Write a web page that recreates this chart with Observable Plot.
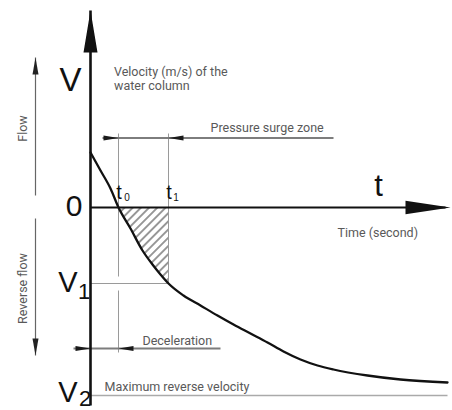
<!DOCTYPE html>
<html><head><meta charset="utf-8">
<script src="https://cdn.jsdelivr.net/npm/d3@7"></script>
<script src="https://cdn.jsdelivr.net/npm/@observablehq/plot@0.6"></script>
<style>html,body{margin:0;padding:0;background:#fff;} svg{display:block;}</style>
</head><body><div id="chart"></div>
<script>
// ---- Data (schematic units: time offset, velocity) ----
const curveT = [0, 10, 20, 28, 40, 52, 62, 70, 78, 93, 110, 127, 143, 160, 177, 193, 210, 227, 243, 277, 310, 357];
const curveV = [55, 37, 19, 0, -21, -43, -57, -67, -76, -88, -98, -108, -117, -126, -135, -144, -152, -158, -162, -168, -172, -175];
const t0 = 28, t1 = 78;
const V1 = -76, V2 = -188;
const vTop = 197, vBottom = -198, tEnd = 360, curveEnd = 357;
const surgeY = 69.5, surgeFrom = 12, surgeTo = 243;
const decelY = -141, decelFrom = -17, decelTo = 130;
const guideTop = 74, t0GapTop = -69, t0GapBottom = -83, t0Bottom = -145;
const flowX = -55, flowFrom = 12, flowTo = 150, revFrom = -11, revTo = -148;

const bigLabels = ["V", "0", "V", "V", "t"];
const bigLabelX = [-20, -16.5, -22.5, -22.5, 288];
const bigLabelY = [127, 1, -75.5, -185, 21];
const bigLabelSize = [33, 30, 29, 29, 31];
const subLabels = ["1", "2"];
const subLabelX = [-6.5, -5.5];
const subLabelY = [-84, -191];

const tickLabels = ["t", "t"];
const tickLabelX = [t0 + 0.5, t1 + 0.5];
const tickSubs = ["0", "1"];
const tickSubX = [t0 + 8.5, t1 + 7.5];

const noteTexts = ["Velocity (m/s) of the\nwater column", "Pressure surge zone", "Time (second)", "Deceleration", "Maximum reverse velocity"];
const noteX = [23.5, 120, 247, 52, 14];
const noteY = [141.9, 85.9, -19.1, -127.1, -173.1];
const sideTexts = ["Flow", "Reverse flow"];
const sideY = [79, -81];

// ---- Build rows ----
const curve = curveT.map((t, i) => ({t, v: curveV[i]}));
const hatch = curve.filter(d => d.t >= t0 && d.t <= t1);
const seg = (x1, y1, x2, y2) => ({x1, y1, x2, y2});

const head = (len, half) => ({draw(ctx) { ctx.moveTo(0, 0); ctx.lineTo(half, len); ctx.lineTo(-half, len); ctx.closePath(); }});

const chart = Plot.plot({
  width: 452, height: 410,
  marginTop: 0, marginRight: 0, marginBottom: 0, marginLeft: 0,
  x: {domain: [-90, 362], axis: null},
  y: {domain: [-203, 207], axis: null},
  style: {background: "#fff"},
  marks: [
    Plot.areaY(hatch, {x: "t", y1: 0, y2: "v", curve: "monotone-x", fill: "url(#hatch)"}),
    // thin guides
    Plot.link([seg(t0, guideTop, t0, t0GapTop), seg(t0, t0GapBottom, t0, t0Bottom), seg(t1, guideTop, t1, V1), seg(0, V1, t1, V1)],
      {x1: "x1", y1: "y1", x2: "x2", y2: "y2", stroke: "#9a9a9a", strokeWidth: 1}),
    Plot.link([seg(0, V2, curveEnd, V2)], {x1: "x1", y1: "y1", x2: "x2", y2: "y2", stroke: "#aaaaaa", strokeWidth: 1.3}),
    // dimension lines
    Plot.link([seg(surgeFrom, surgeY, surgeTo, surgeY), seg(decelFrom, decelY, decelTo, decelY)],
      {x1: "x1", y1: "y1", x2: "x2", y2: "y2", stroke: "#7d7d7d", strokeWidth: 1.8}),
    Plot.dot([{x: t0, y: surgeY, r: 90}, {x: t1, y: surgeY, r: -90}, {x: 0, y: decelY, r: 90}, {x: t0, y: decelY, r: -90}],
      {x: "x", y: "y", rotate: "r", symbol: head(15, 2.6), fill: "#1a1a1a", stroke: "none"}),
    // flow arrows
    Plot.link([seg(flowX, flowFrom, flowX, flowTo), seg(flowX, revFrom, flowX, revTo)],
      {x1: "x1", y1: "y1", x2: "x2", y2: "y2", stroke: "#666", strokeWidth: 1.2}),
    Plot.dot([{x: flowX, y: flowTo, r: 0}, {x: flowX, y: revTo, r: 180}],
      {x: "x", y: "y", rotate: "r", symbol: head(17, 3), fill: "#222", stroke: "none"}),
    // axes
    Plot.link([seg(0, vTop, 0, vBottom)], {x1: "x1", y1: "y1", x2: "x2", y2: "y2", stroke: "#111", strokeWidth: 2.6}),
    Plot.link([seg(0, 0, tEnd - 5, 0)], {x1: "x1", y1: "y1", x2: "x2", y2: "y2", stroke: "#111", strokeWidth: 2.2}),
    Plot.dot([{x: 0, y: vTop}], {x: "x", y: "y", symbol: head(42, 7), fill: "#111", stroke: "none"}),
    Plot.dot([{x: tEnd, y: 0}], {x: "x", y: "y", rotate: 90, symbol: head(45, 6.8), fill: "#111", stroke: "none"}),
    // velocity curve
    Plot.line(curve, {x: "t", y: "v", curve: "monotone-x", stroke: "#111", strokeWidth: 2.3}),
    // big labels
    Plot.text(bigLabels, {x: (d, i) => bigLabelX[i], y: (d, i) => bigLabelY[i], text: d => d, fontSize: (d, i) => bigLabelSize[i],
      fontFamily: "Liberation Sans", fill: "#111", textAnchor: "middle"}),
    Plot.text(subLabels, {x: (d, i) => subLabelX[i], y: (d, i) => subLabelY[i], text: d => d, fontSize: 22,
      fontFamily: "Liberation Sans", fill: "#111", textAnchor: "middle"}),
    Plot.text(tickLabels, {x: (d, i) => tickLabelX[i], y: 14.5, text: d => d, fontSize: 20,
      fontFamily: "Liberation Sans", fill: "#111", textAnchor: "middle"}),
    Plot.text(tickSubs, {x: (d, i) => tickSubX[i], y: 9.5, text: d => d, fontSize: 10,
      fontFamily: "Liberation Sans", fill: "#111", textAnchor: "middle"}),
    // notes
    Plot.text(noteTexts, {x: (d, i) => noteX[i], y: (d, i) => noteY[i], text: d => d, fontSize: 12.5, lineHeight: 1.12,
      fontFamily: "Roboto", fill: "#595959", textAnchor: "start", lineAnchor: "top"}),
    Plot.text(sideTexts, {x: -68, y: (d, i) => sideY[i], text: d => d, rotate: -90, fontSize: 12.5,
      fontFamily: "Roboto", fill: "#595959", textAnchor: "middle"})
  ]
});

const defs = d3.select(chart).insert("defs", ":first-child");
const pat = defs.append("pattern").attr("id", "hatch").attr("patternUnits", "userSpaceOnUse")
  .attr("width", 5.8).attr("height", 5.8).attr("patternTransform", "rotate(45)");
pat.append("line").attr("x1", 2.9).attr("y1", -1).attr("x2", 2.9).attr("y2", 7)
  .attr("stroke", "#333").attr("stroke-width", 1);

document.getElementById("chart").appendChild(chart);
</script>
</body></html>
